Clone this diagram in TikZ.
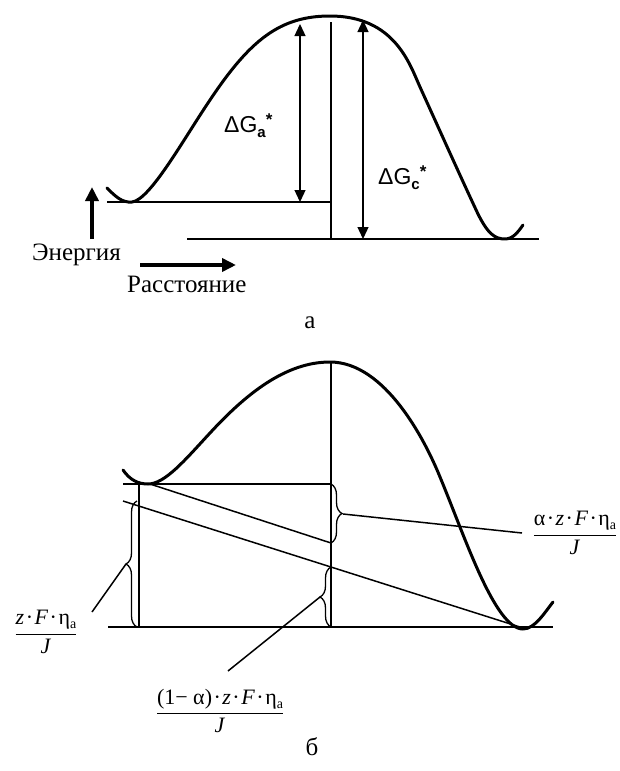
\documentclass[tikz,border=0pt]{standalone}
\usepackage{fontspec}
\setmainfont{Liberation Serif}
\newfontfamily\sansf{Liberation Sans}
\usetikzlibrary{arrows.meta,decorations.pathreplacing}
\newcommand\myfrac[2]{$\displaystyle\frac{\hbox{#1}}{\hbox{#2}}$}
\newcommand\mydot{\kern1.5pt·\kern1.5pt}
\newcommand\mysub[1]{\raisebox{-4pt}{\fontsize{14}{14}\selectfont #1}}
\newcommand\gsym[1]{ΔG\raisebox{-5pt}{\fontsize{15}{15}\selectfont\bfseries #1}\raisebox{7pt}{\fontsize{17}{17}\selectfont\bfseries *}}
\begin{document}
\begin{tikzpicture}[x=1pt,y=-1pt,
  curve/.style={line width=3pt, line cap=round, line join=round},
  thinln/.style={line width=1.5pt},
  dbl/.style={line width=1.3pt, {Triangle[length=12pt,width=11pt]}-{Triangle[length=12pt,width=11pt]}},
  bigarrow/.style={line width=3.5pt, -{Triangle[length=14pt,width=13pt]}},
  brc/.style={line width=1.3pt, decorate, decoration={brace, amplitude=11pt}},
  txt/.style={font=\fontsize{25}{29}\selectfont, inner sep=0pt},
  glbl/.style={font=\sansf\fontsize{23}{27}\selectfont, inner sep=0pt},
  frlbl/.style={font=\fontsize{22}{26}\selectfont, inner sep=0pt}]
\fill[white] (0,0) rectangle (620,771);
\useasboundingbox (0,0) rectangle (620,771);
% ---------- part a ----------
\draw[curve] (107,188) .. controls (115,196) and (122,203) .. (132,202)
  .. controls (150,200) and (183,140) .. (210,100)
  .. controls (250,40) and (280,16) .. (330,16)
  .. controls (395,16) and (410,65) .. (420,87)
  .. controls (440,131) and (462,180) .. (478,214)
  .. controls (488,234) and (495,239) .. (505,239)
  .. controls (513,239) and (518,232) .. (523,225);
\coordinate (a1) at (107,202); \coordinate (a2) at (331,202);
\coordinate (vtop) at (331,22); \coordinate (vbot) at (331,239);
\coordinate (g1) at (187,239); \coordinate (g2) at (539,239);
\draw[thinln] (a1) -- (a2);
\draw[thinln] (vtop) -- (vbot);
\draw[thinln] (g1) -- (g2);
\coordinate (ga1) at (300,24); \coordinate (ga2) at (300,202);
\draw[dbl] (ga1) -- (ga2);
\coordinate (gc1) at (363,20); \coordinate (gc2) at (363,239);
\draw[dbl] (gc1) -- (gc2);
\node[glbl, anchor=base west] (lga) at (224,132) {\gsym{a}};
\node[glbl, anchor=base west] (lgc) at (378,184) {\gsym{c}};
\coordinate (e1) at (92,239); \coordinate (e2) at (92,187);
\draw[bigarrow] (e1) -- (e2);
\coordinate (d1) at (140,265); \coordinate (d2) at (236,265);
\draw[bigarrow] (d1) -- (d2);
\node[txt, anchor=base east] (en) at (121,260) {Энергия};
\node[txt, anchor=base west] (ds) at (127,292) {Расстояние};
\node[txt, anchor=base] (la) at (310,328) {а};
% ---------- part b ----------
\draw[curve] (123,470) .. controls (130,480) and (138,484) .. (148,484)
  .. controls (165,484) and (185,460) .. (210,433)
  .. controls (245,395) and (285,362) .. (330,362)
  .. controls (385,362) and (425,440) .. (440,477)
  .. controls (465,537) and (495,629) .. (523,629)
  .. controls (535,629) and (545,612) .. (553,602);
\coordinate (gb1) at (108,627); \coordinate (gb2) at (553,627);
\draw[thinln] (gb1) -- (gb2);
\coordinate (t1) at (123,484); \coordinate (t2) at (331,484);
\draw[thinln] (t1) -- (t2);
\coordinate (pk) at (331,362); \coordinate (pkb) at (331,627);
\draw[thinln] (pk) -- (pkb);
\coordinate (lv1) at (139,484); \coordinate (lv2) at (139,627);
\draw[thinln] (lv1) -- (lv2);
\coordinate (s1a) at (150,484); \coordinate (s1b) at (331,543);
\draw[thinln] (s1a) -- (s1b);
\coordinate (s2a) at (123,501); \coordinate (s2b) at (520,627);
\draw[thinln] (s2a) -- (s2b);
% braces
\draw[brc] (331,484) -- (331,543);
\draw[brc] (137,627) -- (137,501);
\draw[brc] (331,627) -- (331,567);
% labels
\node[frlbl] (l1) at (575,533) {\myfrac{α\mydot\textit{z}\mydot\textit{F}\mydot η\mysub{a}}{\textit{J}}};
\node[frlbl] (l2) at (46,632) {\myfrac{\textit{z}\mydot\textit{F}\mydot η\mysub{a}}{\textit{J}}};
\node[frlbl] (l3) at (220,711) {\myfrac{(1− α)\mydot\textit{z}\mydot\textit{F}\mydot η\mysub{a}}{\textit{J}}};
\coordinate (b1t) at (343,514); \coordinate (l1e) at (522,533);
\draw[thinln] (b1t) -- (l1e);
\coordinate (b2t) at (126,564); \coordinate (l2e) at (92,612);
\draw[thinln] (b2t) -- (l2e);
\coordinate (b3t) at (320,597); \coordinate (l3e) at (228,671);
\draw[thinln] (b3t) -- (l3e);
\node[txt, anchor=base] (lb) at (312,755) {б};
\end{tikzpicture}
\end{document}
